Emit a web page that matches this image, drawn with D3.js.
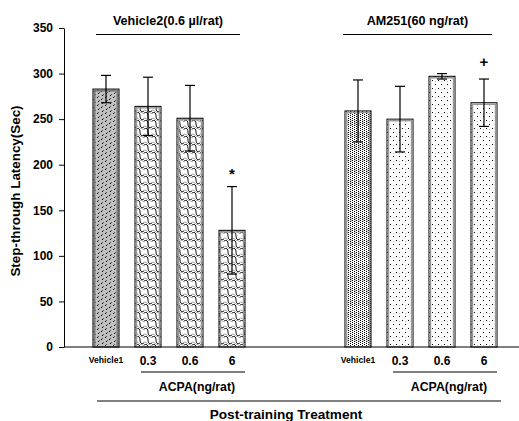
<!DOCTYPE html>
<html>
<head>
<meta charset="utf-8">
<script src="https://cdn.jsdelivr.net/npm/d3@7"></script>
<style>
  body { margin: 0; background: #fff; }
  svg text { font-family: "Liberation Sans", Arial, sans-serif; font-weight: bold; fill: #000; }
</style>
</head>
<body>
<svg id="chart" width="519" height="421"></svg>
<script>
// slots along the x axis (two empty slots separate the groups)
var slots = ['v1', 'a03', 'a06', 'a6', 'gapA', 'gapB', 'm1', 'm03', 'm06', 'm6'];
var barSlots = ['v1', 'a03', 'a06', 'a6', 'm1', 'm03', 'm06', 'm6'];
var tickLabels = ['Vehicle1', '0.3', '0.6', '6', 'Vehicle1', '0.3', '0.6', '6'];
var means = [283, 264, 251, 128, 259, 250, 297, 268];
var errors = [15, 32, 36, 48, 34, 36, 3, 26];
var marks = ['', '', '', '*', '', '', '', '+'];
var fills = ['dashGray', 'wave', 'wave', 'wave', 'denseDots', 'dots', 'dots', 'dots'];
var groupTitles = ['Vehicle2(0.6 \u00b5l/rat)', 'AM251(60 ng/rat)'];
var groupSlots = [['v1', 'a6'], ['m1', 'm6']];
var yTicks = [0, 50, 100, 150, 200, 250, 300, 350];

var svg = d3.select('#chart');

var scaleX = d3.scaleBand()
  .domain(slots)
  .range([85, 505])
  .paddingInner(0.38)
  .paddingOuter(0.19);
var scaleY = d3.scaleLinear()
  .domain([0, 350])
  .range([347, 28]);
var bw = scaleX.bandwidth();

// fill patterns, imitating the old spreadsheet hatchings
var defs = svg.append('defs');
var p = defs.append('pattern').attr('id', 'dashGray')
  .attr('patternUnits', 'userSpaceOnUse').attr('width', 8).attr('height', 8);
p.append('rect').attr('width', 8).attr('height', 8).attr('fill', '#c0c0c0');
[[1, 1], [5, 3], [2, 5], [6, 7]].forEach(function(d) {
  p.append('rect').attr('x', d[0]).attr('y', d[1]).attr('width', 1).attr('height', 1).attr('fill', '#000');
  p.append('rect').attr('x', d[0] + 1).attr('y', d[1] - 1).attr('width', 1).attr('height', 1).attr('fill', '#555');
});

p = defs.append('pattern').attr('id', 'wave')
  .attr('patternUnits', 'userSpaceOnUse').attr('width', 8).attr('height', 8);
p.append('rect').attr('width', 8).attr('height', 8).attr('fill', '#fff');
p.append('path').attr('d', 'M0,1 Q4,-1 4,4 T8,7').attr('fill', 'none').attr('stroke', '#000').attr('stroke-width', 0.9);
p.append('path').attr('d', 'M4,0 Q6,0 8,2').attr('fill', 'none').attr('stroke', '#999').attr('stroke-width', 0.9);
p.append('path').attr('d', 'M0,6 Q2,6 4,8').attr('fill', 'none').attr('stroke', '#999').attr('stroke-width', 0.9);

p = defs.append('pattern').attr('id', 'denseDots')
  .attr('patternUnits', 'userSpaceOnUse').attr('width', 4).attr('height', 12);
p.append('rect').attr('width', 4).attr('height', 12).attr('fill', '#fff');
p.append('rect').attr('x', 2).attr('y', 0).attr('width', 2).attr('height', 6).attr('fill', '#ccc');
for (var j = 0; j < 12; j += 2) {
  p.append('rect').attr('x', 0).attr('y', j).attr('width', 1).attr('height', 1).attr('fill', '#000');
  p.append('rect').attr('x', 2).attr('y', j + 1).attr('width', 1).attr('height', 1).attr('fill', '#000');
}

p = defs.append('pattern').attr('id', 'dots')
  .attr('patternUnits', 'userSpaceOnUse').attr('width', 6).attr('height', 8);
p.append('rect').attr('width', 6).attr('height', 8).attr('fill', '#fff');
p.append('rect').attr('x', 0).attr('y', 0).attr('width', 1).attr('height', 1).attr('fill', '#000');
p.append('rect').attr('x', 3).attr('y', 4).attr('width', 1).attr('height', 1).attr('fill', '#000');
p.append('rect').attr('x', 3).attr('y', 1).attr('width', 1).attr('height', 1).attr('fill', '#bbb');

// bars
var bars = svg.append('g');
barSlots.forEach(function(s, i) {
  var x = scaleX(s), y = scaleY(means[i]), h = scaleY(0) - y;
  bars.append('rect').attr('x', x).attr('y', y).attr('width', bw).attr('height', h)
    .attr('fill', 'url(#' + fills[i] + ')').attr('stroke', '#000').attr('stroke-width', 1);
  bars.append('rect').attr('x', x + 1.5).attr('y', y + 1.5).attr('width', bw - 3).attr('height', h - 1.5)
    .attr('fill', 'none').attr('stroke', i === 0 ? '#777' : '#999').attr('stroke-width', i === 0 ? 2 : 1.5);
});

// error bars
var err = svg.append('g').attr('stroke', '#000').attr('stroke-width', 1.2);
barSlots.forEach(function(s, i) {
  var cx = scaleX(s) + bw / 2;
  var hi = scaleY(means[i] + errors[i]), lo = scaleY(means[i] - errors[i]);
  err.append('line').attr('x1', cx).attr('x2', cx).attr('y1', hi).attr('y2', lo);
  err.append('line').attr('x1', cx - 5).attr('x2', cx + 5).attr('y1', hi).attr('y2', hi);
  err.append('line').attr('x1', cx - 5).attr('x2', cx + 5).attr('y1', lo).attr('y2', lo);
  if (marks[i]) {
    svg.append('text').attr('x', cx).attr('y', marks[i] === '+' ? hi - 12 : hi - 8)
      .attr('text-anchor', 'middle')
      .style('font-size', '15px').text(marks[i]);
  }
});

// y axis
var axisY = d3.axisLeft(scaleY).tickValues(yTicks).tickSize(5).tickSizeOuter(0).tickPadding(6);
var gY = svg.append('g').attr('transform', 'translate(64,0)').call(axisY);
gY.selectAll('text').style('font-size', '12px').style('font-family', '"Liberation Sans", Arial, sans-serif');
gY.selectAll('line, path').attr('stroke', '#000');

// x axis line
svg.append('line').attr('x1', 64).attr('x2', 519).attr('y1', scaleY(0)).attr('y2', scaleY(0))
  .attr('stroke', '#000').attr('stroke-width', 1.2);

// tick labels
barSlots.forEach(function(s, i) {
  var small = tickLabels[i] === 'Vehicle1';
  svg.append('text').attr('x', scaleX(s) + bw / 2).attr('y', small ? 362.5 : 364.5)
    .attr('text-anchor', 'middle')
    .style('font-size', small ? '8.6px' : '12px')
    .text(tickLabels[i]);
});

// ACPA brackets
[['a03', 'a6'], ['m03', 'm6']].forEach(function(g) {
  var x1 = scaleX(g[0]) + 6, x2 = scaleX(g[1]) + bw;
  svg.append('line').attr('x1', x1).attr('x2', x2).attr('y1', 372).attr('y2', 372)
    .attr('stroke', '#000').attr('stroke-width', 1);
  svg.append('text').attr('x', (x1 + x2) / 2 + 4).attr('y', 391).attr('text-anchor', 'middle')
    .style('font-size', '12.3px').text('ACPA(ng/rat)');
});

// group headings
groupSlots.forEach(function(g, i) {
  var x1 = scaleX(g[0]) + (i === 0 ? 3 : -2), x2 = scaleX(g[1]) + bw - 5;
  svg.append('line').attr('x1', x1).attr('x2', x2).attr('y1', 34.5).attr('y2', 34.5)
    .attr('stroke', '#000').attr('stroke-width', 1);
  svg.append('text').attr('x', (x1 + x2) / 2).attr('y', 25).attr('text-anchor', 'middle')
    .style('font-size', '12.6px').text(groupTitles[i]);
});

// bottom bracket and axis titles
svg.append('line').attr('x1', 97).attr('x2', 501).attr('y1', 401).attr('y2', 401)
  .attr('stroke', '#000').attr('stroke-width', 1);
svg.append('text').attr('x', 286).attr('y', 419).attr('text-anchor', 'middle')
  .style('font-size', '13.6px').text('Post-training Treatment');
svg.append('text').attr('transform', 'translate(20,191)rotate(-90)').attr('text-anchor', 'middle')
  .style('font-size', '13.4px').text('Step-through Latency(Sec)');
</script>
</body>
</html>
